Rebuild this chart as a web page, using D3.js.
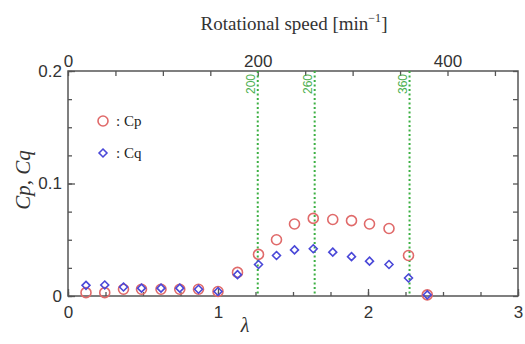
<!DOCTYPE html>
<html>
<head>
<meta charset="utf-8">
<script src="https://cdn.jsdelivr.net/npm/d3@7"></script>
<style>
  body { margin: 0; background: #fff; }
  svg { display: block; }
  .tick text { font-family: "Liberation Sans", Arial, sans-serif; font-size: 17px; fill: #333; }
</style>
</head>
<body>
<div class="report"></div>
<script>
// tip speed ratio and measured coefficients
var lambda = [0.12, 0.245, 0.37, 0.49, 0.62, 0.745, 0.87, 1.0, 1.13, 1.27, 1.39, 1.51, 1.635, 1.765, 1.89, 2.01, 2.14, 2.27, 2.395];
var cp =     [0.003, 0.003, 0.006, 0.006, 0.006, 0.006, 0.006, 0.004, 0.021, 0.037, 0.050, 0.064, 0.069, 0.068, 0.067, 0.064, 0.060, 0.036, 0.001];
var cq =     [0.0095, 0.0098, 0.008, 0.007, 0.007, 0.007, 0.006, 0.004, 0.019, 0.028, 0.036, 0.041, 0.042, 0.039, 0.035, 0.031, 0.028, 0.016, 0.001];

// rotational speed marks (min^-1)
var speedLines = [200, 260, 360];
var xTicks = [0, 1, 2, 3];
var yTicks = [0, 0.1, 0.2];
var topTicks = [0, 200, 400];

var svg = d3.select(".report").append("svg:svg").attr("width", 525).attr("height", 344),
    margin = {top: 71, right: 7, bottom: 48, left: 68},
    width = 525 - margin.left - margin.right,
    height = 344 - margin.top - margin.bottom,
    g = svg.append("g").attr("transform", "translate(" + margin.left + "," + margin.top + ")");

var x = d3.scaleLinear().domain([0, 3]).range([0, width]);
var y = d3.scaleLinear().domain([0, 0.2]).range([height, 0]);
// speed axis: lambda = 0.006325 * N
var n = d3.scaleLinear().domain([0, 3 / 0.006325]).range([0, width]);

var axisColor = "#555";

function styleAxis(sel) {
    sel.select(".domain").remove();
    sel.selectAll("line").attr("stroke", axisColor).attr("stroke-width", 1.3);
}

// minor ticks (inward)
g.append("g").call(d3.axisBottom(x).tickValues(d3.range(0, 3.01, 0.25)).tickSize(-4).tickFormat(""))
    .attr("transform", "translate(0," + height + ")").call(styleAxis);
g.append("g").call(d3.axisBottom(x).tickValues(xTicks).tickSize(-7).tickPadding(10).tickFormat(d3.format("d")))
    .attr("transform", "translate(0," + height + ")").call(styleAxis);

g.append("g").call(d3.axisLeft(y).tickValues(d3.range(0, 0.201, 0.025)).tickSize(-4).tickFormat(""))
    .call(styleAxis);
g.append("g").call(d3.axisLeft(y).tickValues(yTicks).tickSize(-7).tickPadding(6)
    .tickFormat(function(d) { return d === 0 ? "0" : d3.format(".1f")(d); }))
    .call(styleAxis);

g.append("g").call(d3.axisRight(y).tickValues(d3.range(0, 0.201, 0.025)).tickSize(-5).tickFormat(""))
    .attr("transform", "translate(" + width + ",0)").call(styleAxis);

g.append("g").call(d3.axisTop(n).tickValues(d3.range(0, 451, 50)).tickSize(-5).tickFormat(""))
    .call(styleAxis);
g.append("g").call(d3.axisTop(n).tickValues(topTicks).tickSize(0).tickPadding(4))
    .call(styleAxis);

// frame
g.append("rect").attr("width", width).attr("height", height)
    .attr("fill", "none").attr("stroke", axisColor).attr("stroke-width", 1.5);

// speed lines
var sl = g.selectAll(".speed").data(speedLines).enter().append("g").attr("class", "speed")
    .attr("transform", function(d) { return "translate(" + n(d) + ",0)"; });
sl.append("line").attr("y1", 0).attr("y2", height)
    .attr("stroke", "#3cb043").attr("stroke-width", 2).attr("stroke-dasharray", "2,2.5");
sl.append("text").attr("transform", "translate(-3,3) rotate(-90)")
    .attr("text-anchor", "end").attr("font-family", "Liberation Sans, Arial, sans-serif")
    .attr("font-size", 12).attr("fill", "#4cb050")
    .text(function(d) { return d; });

var data = lambda.map(function(l, i) { return {l: l, cp: cp[i], cq: cq[i]}; });

var red = "#e06a6a", blue = "#4a48d8";
var diamond = d3.symbol().type(d3.symbolDiamond2).size(40);

g.selectAll(".cp").data(data).enter().append("circle").attr("class", "cp")
    .attr("cx", function(d) { return x(d.l); }).attr("cy", function(d) { return y(d.cp); })
    .attr("r", 5).attr("fill", "none").attr("stroke", red).attr("stroke-width", 1.6);

g.selectAll(".cq").data(data).enter().append("path").attr("class", "cq")
    .attr("transform", function(d) { return "translate(" + x(d.l) + "," + y(d.cq) + ")"; })
    .attr("d", diamond).attr("fill", "none").attr("stroke", blue).attr("stroke-width", 1.6);

// legend
var lg = g.append("g").attr("transform", "translate(35,50)");
lg.append("circle").attr("r", 5).attr("fill", "none").attr("stroke", red).attr("stroke-width", 1.6);
lg.append("path").attr("transform", "translate(0,32)").attr("d", diamond)
    .attr("fill", "none").attr("stroke", blue).attr("stroke-width", 1.6);
lg.append("text").attr("x", 13).attr("y", 5).attr("font-family", "Liberation Serif, serif")
    .attr("font-size", 15).attr("fill", "#222").text(": Cp");
lg.append("text").attr("x", 13).attr("y", 37).attr("font-family", "Liberation Serif, serif")
    .attr("font-size", 15).attr("fill", "#222").text(": Cq");

// axis labels
svg.append("text").attr("x", 245).attr("y", 332).attr("text-anchor", "middle")
    .attr("font-family", "Liberation Serif, serif").attr("font-style", "italic")
    .attr("font-size", 20).attr("fill", "#333").text("λ");

svg.append("text").attr("transform", "translate(30,180) rotate(-90)").attr("text-anchor", "middle")
    .attr("font-family", "Liberation Serif, serif").attr("font-style", "italic")
    .attr("font-size", 21).attr("fill", "#333").text("Cp, Cq");

var title = svg.append("text").attr("x", 294).attr("y", 30).attr("text-anchor", "middle")
    .attr("font-family", "Liberation Serif, serif").attr("font-size", 19).attr("fill", "#333");
title.append("tspan").text("Rotational speed [min");
title.append("tspan").attr("dy", -8).attr("font-size", 12).text("−1");
title.append("tspan").attr("dy", 8).text("]");
</script>
</body>
</html>
